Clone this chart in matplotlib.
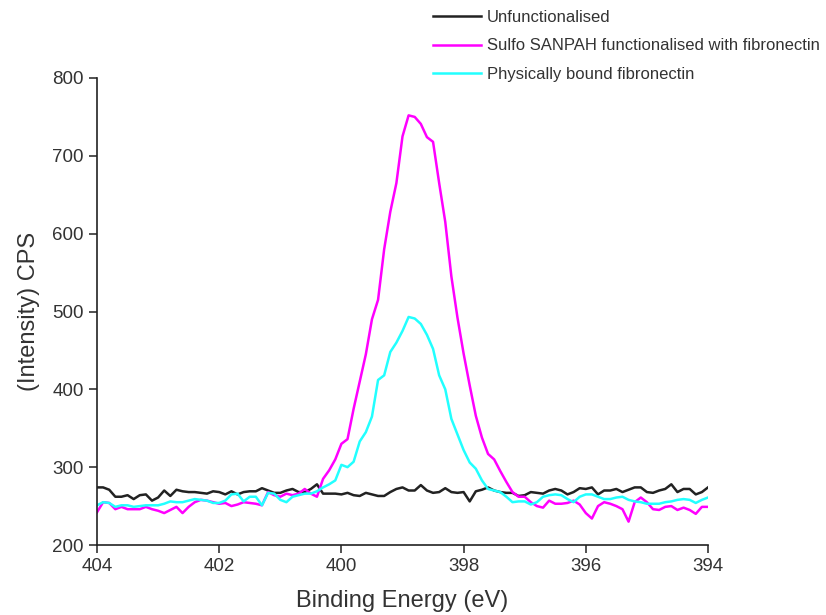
import numpy as np
import matplotlib
matplotlib.use('Agg')
import matplotlib.pyplot as plt

plt.rcParams['font.family'] = ['Liberation Sans', 'DejaVu Sans']

# binding energy, 404 -> 394 eV in 0.1 eV steps
energy = np.round(np.linspace(404.0, 394.0, 101), 1)

unfunctionalised = [
    274, 274, 271, 262, 262, 264, 259, 264, 265, 257,
    261, 270, 263, 271, 269, 268, 268, 267, 266, 269,
    268, 265, 269, 265, 268, 269, 269, 273, 270, 267,
    267, 270, 272, 268, 268, 272, 278, 266, 266, 266,
    265, 267, 264, 263, 267, 265, 263, 263, 268, 272,
    274, 270, 270, 277, 270, 267, 268, 273, 268, 267,
    268, 256, 269, 271, 274, 270, 268, 267, 267, 263,
    264, 268, 267, 266, 270, 272, 270, 265, 268, 273,
    272, 274, 265, 270, 270, 272, 268, 271, 274, 274,
    268, 267, 270, 272, 278, 268, 272, 272, 265, 268,
    274,
]

sulfo_sanpah = [
    242, 255, 254, 246, 249, 246, 246, 246, 249, 246,
    244, 241, 245, 249, 241, 249, 255, 258, 257, 255,
    253, 254, 250, 252, 255, 254, 253, 251, 268, 264,
    262, 266, 264, 266, 272, 266, 262, 285, 296, 310,
    330, 336, 375, 410, 445, 490, 515, 580, 628, 665,
    725, 752, 750, 741, 724, 718, 665, 615, 545, 492,
    446, 405, 366, 338, 317, 310, 295, 281, 268, 262,
    262, 255, 250, 248, 257, 253, 253, 254, 257, 252,
    241, 234, 250, 255, 253, 250, 246, 230, 255, 261,
    255, 246, 245, 249, 250, 245, 248, 245, 240, 249,
    249,
]

physically_bound = [
    251, 255, 254, 249, 251, 251, 249, 250, 251, 251,
    251, 253, 256, 255, 255, 257, 259, 258, 257, 254,
    254, 257, 265, 266, 256, 262, 262, 251, 267, 266,
    258, 255, 262, 264, 266, 266, 269, 274, 278, 283,
    303, 300, 307, 333, 345, 365, 412, 418, 448, 460,
    475, 493, 491, 484, 470, 452, 418, 400, 362, 342,
    322, 306, 298, 283, 272, 270, 268, 262, 255, 256,
    256, 252, 255, 262, 264, 265, 264, 259, 255, 262,
    265, 265, 262, 259, 259, 261, 262, 258, 256, 255,
    253, 253, 253, 255, 256, 258, 259, 258, 254, 258,
    261,
]

labels = ['Unfunctionalised',
          'Sulfo SANPAH functionalised with fibronectin',
          'Physically bound fibronectin']
colors = ['#222222', '#ff00ff', '#22ffff']

fig = plt.figure(figsize=(8.26, 6.15), dpi=100)
ax = fig.add_axes([97 / 826, 70 / 615, 611 / 826, 467 / 615])

for series, label, color in zip([unfunctionalised, sulfo_sanpah, physically_bound],
                                labels, colors):
    ax.plot(energy, series, color=color, linewidth=1.8, label=label)

ax.set_xlim(404, 394)
ax.set_ylim(200, 800)
ax.set_xticks([404, 402, 400, 398, 396, 394])
ax.set_yticks([200, 300, 400, 500, 600, 700, 800])

for side in ['top', 'right']:
    ax.spines[side].set_visible(False)
for side in ['left', 'bottom']:
    ax.spines[side].set_linewidth(1.2)
    ax.spines[side].set_color('#222222')

ax.tick_params(axis='both', direction='out', length=6, width=1.1,
               labelsize=13.5, colors='#222222', labelcolor='#333333')
ax.set_xlabel('Binding Energy (eV)', fontsize=17, color='#333333', labelpad=11)
ax.set_ylabel('(Intensity) CPS', fontsize=17, color='#333333', labelpad=9)

fig.legend(loc='upper left', bbox_to_anchor=(433 / 826, 1 - 10 / 615),
           frameon=False, fontsize=12, handlelength=2.9, handletextpad=0.35,
           labelspacing=0.8, borderpad=0, borderaxespad=0,
           labelcolor='#333333')

fig.savefig('out.png', dpi=100)
